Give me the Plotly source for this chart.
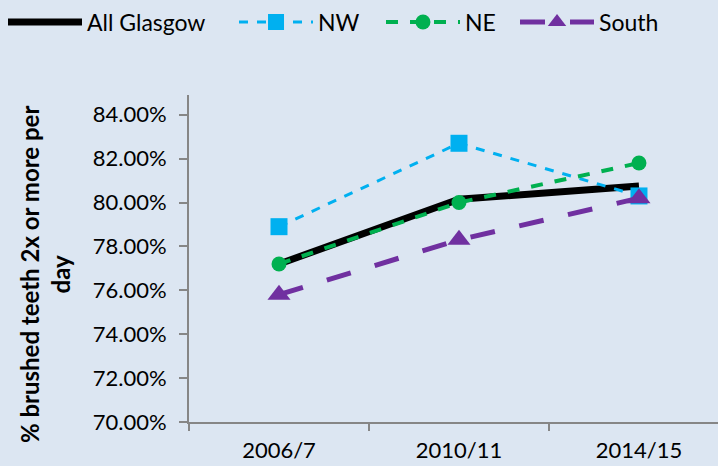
import plotly.graph_objects as go

years = ["2006/7", "2010/11", "2014/15"]
all_glasgow = [77.2, 80.15, 80.75]
nw = [78.9, 82.7, 80.3]
ne = [77.2, 80.0, 81.8]
south = [75.8, 78.3, 80.2]
y_title = "<b>% brushed teeth 2x or more per<br>day</b>"

font = "Lato, 'Open Sans', sans-serif"
fig = go.Figure()
fig.add_trace(go.Scatter(x=years, y=all_glasgow, name="All Glasgow", mode="lines",
                         line=dict(color="black", width=7), legend="legend",
                         showlegend=True))
fig.add_trace(go.Scatter(x=years, y=nw, name="NW", mode="lines+markers",
                         line=dict(color="#00B0F0", width=3, dash="dash"),
                         marker=dict(symbol="square", size=17, color="#00B0F0"),
                         legend="legend2", showlegend=True))
fig.add_trace(go.Scatter(x=years, y=ne, name="NE", mode="lines+markers",
                         line=dict(color="#00B050", width=4, dash="dash"),
                         marker=dict(symbol="circle", size=15, color="#00B050"),
                         legend="legend3", showlegend=True))
fig.add_trace(go.Scatter(x=years, y=south, name="South", mode="lines+markers",
                         line=dict(color="#7030A0", width=5, dash="longdash"),
                         marker=dict(symbol="triangle-up", size=20, color="#7030A0"),
                         legend="legend4", showlegend=True))

def leg(x):
    return dict(orientation="h", x=x, y=1.223, xref="paper", yref="paper",
                xanchor="left", yanchor="middle", font=dict(size=23),
                itemwidth=74, bgcolor="rgba(0,0,0,0)")

fig.update_layout(
    width=718, height=466, showlegend=True,
    paper_bgcolor="#DCE6F2", plot_bgcolor="#DCE6F2",
    margin=dict(l=189, r=0, t=95, b=44, autoexpand=False),
    font=dict(family=font, size=22, color="black"),
    legend=leg(-0.3516), legend2=leg(0.0851), legend3=leg(0.3629), legend4=leg(0.6163),
    xaxis=dict(type="category", range=[-0.5, 2.439], showline=True, linecolor="#868686",
               linewidth=2, ticks="outside", tickson="boundaries", ticklen=7,
               tickcolor="#868686", tickwidth=2, showgrid=False, automargin=False,
               ticklabelstandoff=8, tickfont=dict(size=22)),
    yaxis=dict(range=[70, 84.9], dtick=2, tick0=70, tickformat=".2f", ticksuffix="%",
               showline=True, linecolor="#868686", linewidth=2, ticks="outside",
               ticklen=8, tickcolor="#868686", tickwidth=2, showgrid=False, zeroline=False,
               automargin=False, ticklabelstandoff=8, tickfont=dict(size=22)),
    annotations=[dict(text=y_title, textangle=-90, xref="paper", yref="paper",
                      x=-0.272, y=0.4526, xanchor="center", yanchor="middle",
                      showarrow=False, font=dict(size=24))],
)
fig.write_html("out.html", config={"displayModeBar": False},
               post_script="document.body.style.margin='0';")
